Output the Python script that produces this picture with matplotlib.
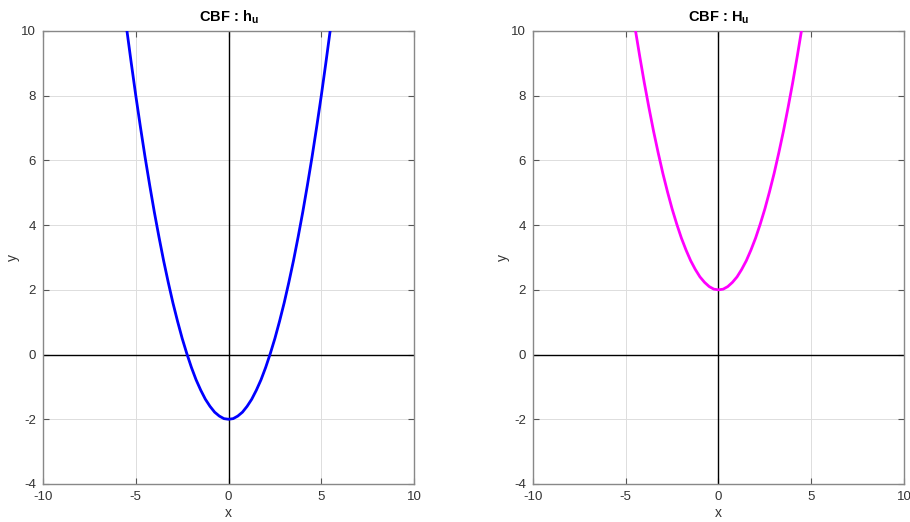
import matplotlib
matplotlib.use('Agg')
import matplotlib.pyplot as plt

x_h = [-5.5, -5.25, -5.0, -4.75, -4.5, -4.25, -4.0, -3.75, -3.5, -3.25, -3.0,
       -2.75, -2.5, -2.25, -2.0, -1.75, -1.5, -1.25, -1.0, -0.75, -0.5, -0.25,
       0.0, 0.25, 0.5, 0.75, 1.0, 1.25, 1.5, 1.75, 2.0, 2.25, 2.5, 2.75,
       3.0, 3.25, 3.5, 3.75, 4.0, 4.25, 4.5, 4.75, 5.0, 5.25, 5.5]
y_h = [10.1, 9.03, 8.0, 7.03, 6.1, 5.23, 4.4, 3.63, 2.9, 2.23, 1.6,
       1.03, 0.5, 0.03, -0.4, -0.78, -1.1, -1.38, -1.6, -1.78, -1.9, -1.98,
       -2.0, -1.98, -1.9, -1.78, -1.6, -1.38, -1.1, -0.78, -0.4, 0.03, 0.5, 1.03,
       1.6, 2.23, 2.9, 3.63, 4.4, 5.23, 6.1, 7.03, 8.0, 9.03, 10.1]

x_H = [-4.5, -4.25, -4.0, -3.75, -3.5, -3.25, -3.0, -2.75, -2.5, -2.25, -2.0,
       -1.75, -1.5, -1.25, -1.0, -0.75, -0.5, -0.25, 0.0, 0.25, 0.5, 0.75,
       1.0, 1.25, 1.5, 1.75, 2.0, 2.25, 2.5, 2.75, 3.0, 3.25, 3.5, 3.75,
       4.0, 4.25, 4.5]
y_H = [10.1, 9.23, 8.4, 7.63, 6.9, 6.23, 5.6, 5.03, 4.5, 4.03, 3.6,
       3.23, 2.9, 2.63, 2.4, 2.23, 2.1, 2.02, 2.0, 2.02, 2.1, 2.23,
       2.4, 2.63, 2.9, 3.23, 3.6, 4.03, 4.5, 5.03, 5.6, 6.23, 6.9, 7.63,
       8.4, 9.23, 10.1]

x_ticks = [-10, -5, 0, 5, 10]
y_ticks = [-4, -2, 0, 2, 4, 6, 8, 10]

plt.rcParams['font.family'] = ['Liberation Sans', 'DejaVu Sans']
plt.rcParams['mathtext.fontset'] = 'custom'
plt.rcParams['mathtext.bf'] = 'Liberation Sans:bold'
plt.rcParams['mathtext.rm'] = 'Liberation Sans'
plt.rcParams['axes.unicode_minus'] = False

fig = plt.figure(figsize=(9.1, 5.22), dpi=100)

panels = [
    (0.0473, x_h, y_h, '#0000ff', r'CBF : h$_\mathbf{u}$'),
    (0.5857, x_H, y_H, '#ff00ff', r'CBF : H$_\mathbf{u}$'),
]

for left, xs, ys, col, title in panels:
    ax = fig.add_axes([left, 0.0728, 0.4077, 0.868])
    ax.plot(xs, ys, color=col, linewidth=2.0, zorder=3, solid_joinstyle='round')
    ax.axhline(0, color='black', linewidth=1.0, zorder=2)
    ax.axvline(0, color='black', linewidth=1.0, zorder=2)
    ax.set_xlim(-10, 10)
    ax.set_ylim(-4, 10)
    ax.set_xticks(x_ticks)
    ax.set_yticks(y_ticks)
    ax.grid(True, color='#dddddd', linewidth=0.7, zorder=0)
    ax.set_axisbelow(True)
    for s in ax.spines.values():
        s.set_color('#888888')
        s.set_linewidth(1.0)
    ax.tick_params(direction='in', length=4, color='#555555', labelcolor='#333333',
                   labelsize=9.5, top=True, right=True, pad=5)
    ax.set_xlabel('x', fontsize=10, color='#333333', labelpad=2)
    ax.set_ylabel('y', fontsize=10, color='#333333', labelpad=1)
    ax.set_title(title, fontsize=10.5, fontweight='bold', pad=7)

fig.savefig('out.png', dpi=100)
